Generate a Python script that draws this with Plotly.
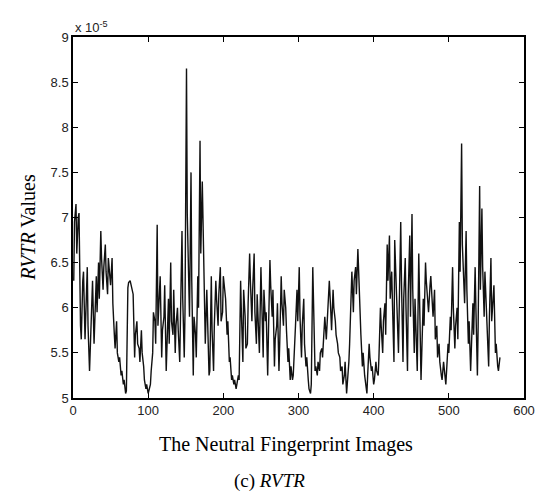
import plotly.graph_objects as go

# Image indices (two interleaved readings of the dense trace)
index_a = list(range(1, 569, 3))
index_b = list(range(2, 567, 3))

# RVTR values, in units of 1e-5, read at index_a
rvtr_a = [
    6.30, 7.15, 7.00, 5.80, 6.30, 5.65, 6.45, 5.30, 6.00, 5.60,
    6.35, 6.50, 6.85, 6.20, 6.70, 6.15, 6.40, 6.55, 5.70, 5.85,
    5.40, 5.25, 5.15, 5.05, 6.22, 6.30, 6.20, 5.45, 5.85, 5.55,
    5.75, 5.35, 5.10, 5.05, 5.15, 5.50, 5.85, 6.92, 6.10, 5.45,
    5.90, 5.30, 6.10, 6.50, 5.70, 5.50, 6.00, 5.40, 6.85, 5.45,
    8.65, 6.40, 7.50, 5.25, 5.70, 6.35, 7.85, 7.40, 5.90, 6.20,
    5.25, 6.35, 5.30, 6.30, 5.80, 6.45, 5.95, 6.20, 5.70, 5.40,
    5.20, 5.15, 5.10, 5.25, 6.30, 5.40, 5.90, 5.60, 6.60, 5.85,
    6.60, 5.60, 5.70, 6.45, 5.45, 5.85, 5.25, 6.53, 5.90, 5.35,
    5.80, 5.30, 6.35, 5.80, 6.00, 5.40, 5.20, 5.20, 5.55, 6.20,
    6.45, 5.45, 6.10, 5.35, 5.20, 5.05, 6.45, 5.30, 5.25, 5.30,
    5.55, 5.75, 5.65, 6.05, 5.95, 6.20, 5.85, 5.60, 5.45, 5.35,
    5.25, 5.05, 5.40, 6.25, 5.95, 6.45, 6.65, 6.00, 5.35, 5.25,
    5.05, 5.60, 5.30, 5.15, 5.40, 5.25, 6.00, 5.50, 6.05, 6.70,
    6.80, 6.40, 5.40, 6.35, 5.50, 6.95, 5.40, 6.55, 5.30, 6.80,
    7.04, 5.50, 5.40, 6.60, 5.20, 6.10, 6.50, 6.10, 6.25, 6.05,
    6.20, 5.80, 5.60, 5.25, 5.40, 5.15, 5.60, 5.90, 6.45, 5.55,
    6.00, 6.95, 7.82, 6.30, 6.85, 5.60, 5.30, 6.05, 6.45, 5.25,
    7.35, 7.10, 5.90, 6.00, 5.35, 6.55, 6.15, 5.50, 5.35, 5.45,
]

# RVTR values, in units of 1e-5, read at index_b
rvtr_b = [
    6.95, 6.60, 7.05, 5.65, 6.40, 5.90, 5.80, 5.55, 6.30, 5.90,
    5.95, 6.10, 6.55, 6.45, 6.40, 6.55, 6.25, 6.05, 5.55, 5.50,
    5.45, 5.30, 5.20, 5.08, 6.28, 6.25, 6.15, 5.70, 5.60, 5.40,
    5.50, 5.20, 5.15, 5.10, 5.30, 5.95, 5.60, 5.80, 6.35, 5.75,
    6.25, 5.50, 5.60, 5.85, 6.20, 5.80, 5.75, 5.90, 6.10, 5.95,
    7.05, 5.90, 6.30, 5.90, 5.45, 6.00, 6.60, 6.90, 5.60, 5.85,
    5.30, 5.75, 5.80, 6.10, 6.15, 5.85, 6.35, 6.10, 5.85, 5.45,
    5.25, 5.20, 5.15, 5.20, 5.95, 6.20, 5.55, 6.05, 6.30, 6.20,
    5.95, 6.15, 5.50, 6.10, 6.20, 5.95, 5.70, 6.25, 6.20, 5.65,
    6.05, 5.60, 6.05, 6.20, 5.75, 5.55, 5.35, 5.25, 5.80, 5.85,
    5.90, 5.80, 5.60, 5.45, 5.10, 5.15, 5.90, 5.35, 5.40, 5.50,
    5.45, 5.90, 5.80, 6.30, 5.75, 6.00, 5.70, 5.50, 5.30, 5.15,
    5.40, 5.15, 5.60, 6.40, 6.30, 6.15, 6.35, 5.70, 5.50, 5.15,
    5.25, 5.45, 5.35, 5.20, 5.30, 5.45, 5.80, 5.85, 5.70, 6.30,
    6.10, 6.05, 6.75, 6.00, 6.20, 6.30, 6.10, 6.00, 6.15, 5.90,
    6.20, 6.10, 5.30, 5.90, 5.50, 5.80, 6.30, 5.95, 6.35, 5.90,
    5.65, 5.45, 5.40, 5.20, 5.30, 5.30, 5.50, 5.75, 6.00, 5.80,
    5.65, 6.40, 6.70, 6.05, 6.20, 5.85, 5.65, 5.70, 6.00, 5.80,
    6.20, 6.45, 6.40, 5.70, 5.90, 5.85, 6.25, 5.60, 5.30,
]

# Merge the two readings into a single trace ordered by image index
pairs = sorted(zip(index_a + index_b, rvtr_a + rvtr_b))
image_index = [p[0] for p in pairs]
rvtr_values = [p[1] for p in pairs]

x_ticks = [0, 100, 200, 300, 400, 500, 600]
y_ticks = [5, 5.5, 6, 6.5, 7, 7.5, 8, 8.5, 9]
y_tick_labels = ["5", "5.5", "6", "6.5", "7", "7.5", "8", "8.5", "9"]

fig = go.Figure()
fig.add_trace(go.Scatter(
    x=image_index, y=rvtr_values, mode="lines",
    line=dict(color="#111111", width=1.4),
    showlegend=False,
))

axis_common = dict(
    showline=True, linecolor="black", linewidth=1.5, mirror="ticks",
    ticks="inside", ticklen=5, tickcolor="black", tickwidth=1.2,
    showgrid=False, zeroline=False,
    tickfont=dict(family="Liberation Sans, Arial", size=13, color="#222222"),
)

fig.update_xaxes(range=[0, 600], tickvals=x_ticks, **axis_common)
fig.update_yaxes(range=[5, 9], tickvals=y_ticks, ticktext=y_tick_labels, **axis_common)

serif = "Liberation Serif, Times New Roman, serif"
# The page body adds an 8px margin, so the figure is sized to fit the window
fig.update_layout(
    width=539, height=484,
    margin=dict(l=65, r=16, t=29, b=94),
    paper_bgcolor="white", plot_bgcolor="white",
    annotations=[
        dict(text="x 10<sup>-5</sup>", xref="paper", yref="paper",
             x=0.0, y=1.0, xanchor="left", yanchor="bottom", showarrow=False,
             font=dict(family="Liberation Sans, Arial", size=13, color="#222222")),
        dict(text="The Neutral Fingerprint Images", xref="paper", yref="paper",
             x=0.4716, y=-0.130, xanchor="center", yanchor="middle", showarrow=False,
             font=dict(family=serif, size=20, color="black")),
        dict(text="(c) <i>RVTR</i>", xref="paper", yref="paper",
             x=0.4367, y=-0.23, xanchor="center", yanchor="middle", showarrow=False,
             font=dict(family=serif, size=19, color="black")),
        dict(text="<i>RVTR</i> Values", xref="paper", yref="paper",
             x=-0.1004, y=0.4737, xanchor="center", yanchor="middle", showarrow=False,
             textangle=-90,
             font=dict(family=serif, size=20, color="black")),
    ],
)

fig.write_html("out.html")
